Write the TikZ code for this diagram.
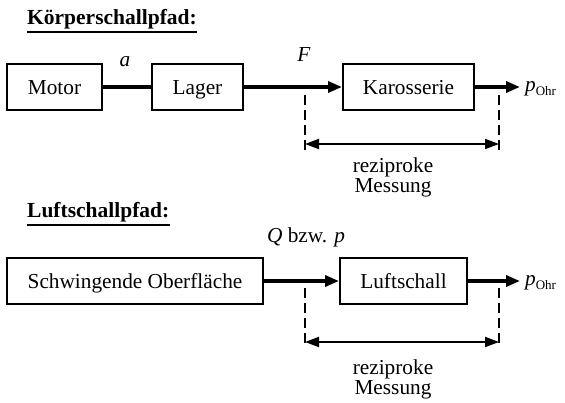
\documentclass[tikz,border=0pt]{standalone}
\usepackage{fontspec}
\setmainfont{Liberation Serif}
\usetikzlibrary{arrows.meta}
\tikzset{
  blk/.style={draw, line width=2pt, minimum height=46pt, inner sep=0pt, text height=19pt, text depth=4pt, font=\fontsize{21.3}{24}\selectfont},
  conn/.style={line width=3.4pt},
  arr/.style={conn, -{Triangle[length=14pt,width=11pt]}},
  dsh/.style={line width=1.5pt, dash pattern=on 10pt off 5pt},
  dim/.style={line width=2pt, {Triangle[length=14pt,width=10pt]}-{Triangle[length=14pt,width=10pt]}},
  lbl/.style={font=\fontsize{21.3}{24}\selectfont, inner sep=0pt},
  ttl/.style={font=\fontsize{21.5}{24}\selectfont\bfseries, inner sep=0pt, anchor=base west},
  uline/.style={line width=1.8pt},
  note/.style={font=\fontsize{21.3}{20}\selectfont, align=center, inner sep=0pt}
}
\newcommand{\pohr}{\textit{p}\raisebox{-0.35ex}{\fontsize{13}{13}\selectfont Ohr}}
\begin{document}
\begin{tikzpicture}[x=1pt,y=-1pt]
\useasboundingbox (0,0) rectangle (565,403);
% --- Koerperschallpfad
\node[ttl] (t1) at (27,25) {Körperschallpfad:};
\draw[uline] ([yshift=-2pt]t1.south west) -- ([yshift=-2pt]t1.south east);
\node[blk, minimum width=95pt] (motor) at (54.5,87) {Motor};
\node[blk, minimum width=91pt] (lager) at (197.5,87) {Lager};
\node[blk, minimum width=131pt] (karo) at (408.5,87) {Karosserie};
\coordinate (o1) at (520,87);
\node[lbl, anchor=west] (p1) at (525,89) {\pohr};
\draw[conn] (motor.east) -- (lager.west);
\draw[arr] (lager.east) -- (karo.west);
\draw[arr] (karo.east) -- (o1);
\node[lbl] (a) at (125,62) {\textit{a}};
\node[lbl] (F) at (304,55) {\textit{F}};
\coordinate (d1t) at (305,95);
\coordinate (d1b) at (305,153);
\coordinate (d2t) at (499,95);
\coordinate (d2b) at (499,153);
\draw[dsh] (d1t) -- (d1b);
\draw[dsh] (d2t) -- (d2b);
\coordinate (m1l) at (305,144);
\coordinate (m1r) at (499,144);
\draw[dim] (m1l) -- (m1r);
\node[note] (r1) at (393,177) {reziproke\\Messung};
% --- Luftschallpfad
\node[ttl] (t2) at (27,218) {Luftschallpfad:};
\draw[uline] ([yshift=-2pt]t2.south west) -- ([yshift=-2pt]t2.south east);
\node[blk, minimum width=256pt] (ober) at (135,281) {Schwingende Oberfläche};
\node[blk, minimum width=127pt] (luft) at (403.5,281) {Luftschall};
\coordinate (o2) at (520,281);
\node[lbl, anchor=west] (p2) at (525,283) {\pohr};
\draw[arr] (ober.east) -- (luft.west);
\draw[arr] (luft.east) -- (o2);
\node[lbl] (Q) at (306,237) {\textit{Q} bzw. \textit{p}};
\coordinate (d3t) at (305,288);
\coordinate (d3b) at (305,347);
\coordinate (d4t) at (499,288);
\coordinate (d4b) at (499,347);
\draw[dsh] (d3t) -- (d3b);
\draw[dsh] (d4t) -- (d4b);
\coordinate (m2l) at (305,342);
\coordinate (m2r) at (499,342);
\draw[dim] (m2l) -- (m2r);
\node[note] (r2) at (393,379) {reziproke\\Messung};
\end{tikzpicture}
\end{document}
